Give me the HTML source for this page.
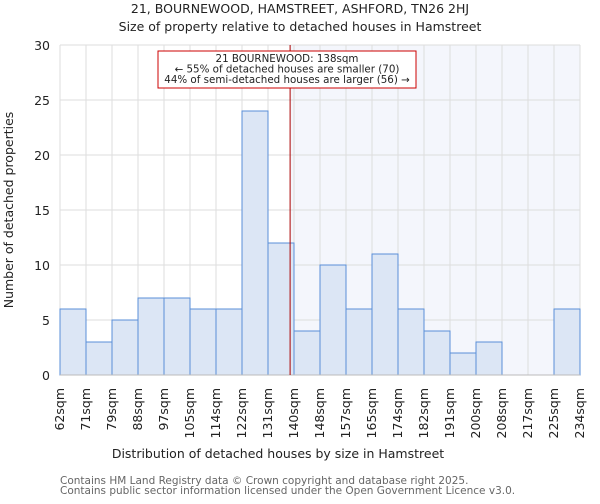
<!DOCTYPE html>
<html><head><meta charset="utf-8"><style>
body{margin:0;background:#fff;font-family:"DejaVu Sans","Liberation Sans",sans-serif}
svg text{font-family:"DejaVu Sans","Liberation Sans",sans-serif}
</style></head><body>
<svg id="chart" width="600" height="500">
<text x="300" y="13" text-anchor="middle" font-size="12.5" fill="#222">21, BOURNEWOOD, HAMSTREET, ASHFORD, TN26 2HJ</text>
<text x="300" y="31" text-anchor="middle" font-size="12.5" fill="#222">Size of property relative to detached houses in Hamstreet</text>
<g id="plot"></g>
<text x="278" y="458" text-anchor="middle" font-size="12.5" fill="#222">Distribution of detached houses by size in Hamstreet</text>
<text transform="translate(13,210) rotate(-90)" text-anchor="middle" font-size="12.5" fill="#222">Number of detached properties</text>
<text x="60" y="484" font-size="10.5" fill="#666">Contains HM Land Registry data © Crown copyright and database right 2025.</text>
<text x="60" y="494" font-size="10.5" fill="#666">Contains public sector information licensed under the Open Government Licence v3.0.</text>
</svg>
<script>
const categories=["62sqm","71sqm","79sqm","88sqm","97sqm","105sqm","114sqm","122sqm","131sqm","140sqm","148sqm","157sqm","165sqm","174sqm","182sqm","191sqm","200sqm","208sqm","217sqm","225sqm","234sqm"];
const counts=[6,3,5,7,7,6,6,24,12,4,10,6,11,6,4,2,3,0,0,6];
const yTicks=[0,5,10,15,20,25,30];
const propertyBin=8.85;
const NS="http://www.w3.org/2000/svg";
const g=document.getElementById('plot');
const X0=60,X1=580,Y0=375,Y1=45,YMAX=30;
const bw=(X1-X0)/counts.length;
const xs=i=>X0+i*bw;
const ys=v=>Y0-(v/YMAX)*(Y0-Y1);
function mk(t,a){const e=document.createElementNS(NS,t);for(const k in a)e.setAttribute(k,a[k]);g.appendChild(e);return e;}
let e;
e=mk('rect',{x:xs(propertyBin),y:Y1,width:X1-xs(propertyBin),height:Y0-Y1,fill:'#f4f6fc'});


for(let i=0;i<categories.length;i++){e=mk('line',{x1:xs(i),x2:xs(i),y1:Y1,y2:Y0,stroke:'#ddd'});

}
yTicks.forEach(t=>{e=mk('line',{x1:X0,x2:X1,y1:ys(t),y2:ys(t),stroke:'#ddd'});


e=mk('text',{x:X0-10,y:ys(t)+5,'text-anchor':'end','font-size':'12.5',fill:'#222'});e.textContent=t;

});
counts.forEach((c,i)=>{if(c<=0)return;e=mk('rect',{x:xs(i),y:ys(c),width:bw,height:Y0-ys(c),fill:'#dce6f5',stroke:'#5a8fd8','stroke-width':1});

});
e=mk('line',{x1:X0,x2:X1,y1:Y0,y2:Y0,stroke:'#bbb'});


categories.forEach((c,i)=>{e=mk('text',{transform:`translate(${xs(i)+4},388) rotate(-90)`,'text-anchor':'end','font-size':'12.5',fill:'#222'});e.textContent=c;

});
const px=xs(propertyBin);
e=mk('line',{x1:px,x2:px,y1:Y1,y2:Y0,stroke:'#a00',"stroke-width":1});


e=mk('rect',{x:158,y:51,width:258,height:37,fill:'#fff',stroke:'#c00'});


["21 BOURNEWOOD: 138sqm","← 55% of detached houses are smaller (70)","44% of semi-detached houses are larger (56) →"].forEach((s,k)=>{e=mk('text',{x:287,y:62+k*10.5,'text-anchor':'middle','font-size':'10.3',fill:'#222'});e.textContent=s;

});
</script>
</body></html>
